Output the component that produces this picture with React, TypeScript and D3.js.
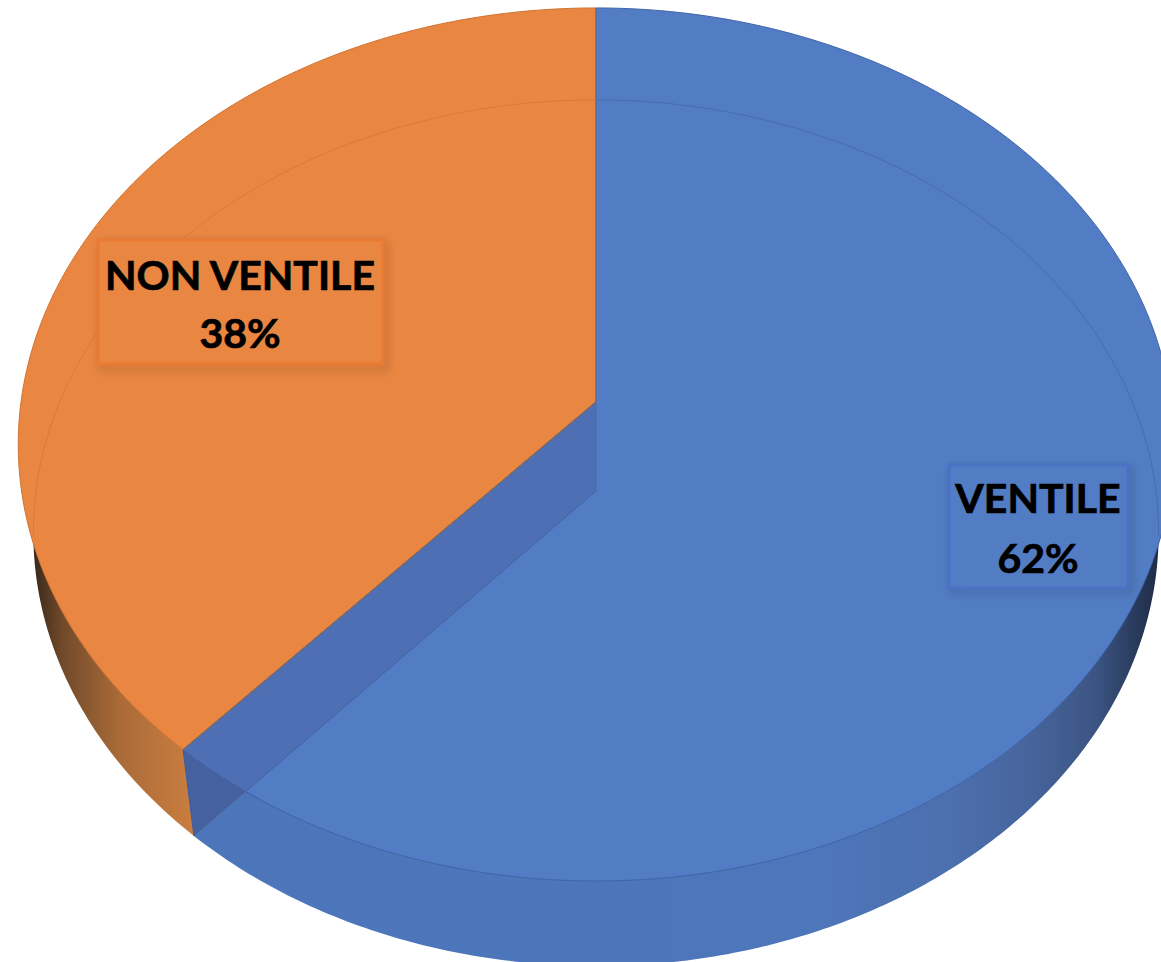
import React from 'react';
import * as d3 from 'd3';

const categories = ['VENTILE', 'NON VENTILE'];
const shares = [61.6, 38.4];
const percentLabels = ['62%', '38%'];

const width = 1161;
const height = 962;

// the two rims of the tilted disc: a circle seen in perspective
const topRim = { cx: 596, cy: 402, a: 575, b: 432.4, k: 0.0973 };
const bottomRim = { cx: 596, cy: 491, a: 560, b: 429, k: 0.097 };

type Rim = typeof topRim;

const project = (rim: Rim, angle: number): [number, number] => {
  const u = Math.sin(angle);
  const v = -Math.cos(angle);
  const w = 1 - rim.k * v;
  return [rim.cx + (rim.a * u) / w, rim.cy + (rim.b * v) / w];
};

const arcPoints = (rim: Rim, start: number, end: number) => {
  const steps = Math.max(2, Math.ceil(Math.abs(end - start) * 90));
  return d3.range(steps + 1).map((i) => project(rim, start + ((end - start) * i) / steps));
};

const closedLine = d3.line().curve(d3.curveLinearClosed);
const openLine = d3.line();

const slices = d3.pie<number>().sort(null)(shares);

const wedge = (rim: Rim, start: number, end: number) =>
  closedLine([[rim.cx, rim.cy], ...arcPoints(rim, start, end)]) as string;

const rimPath = (rim: Rim) => closedLine(arcPoints(rim, 0, Math.PI * 2)) as string;

const sideFills = ['url(#sideBlue)', 'url(#sideOrange)'];
const topFills = ['#527cc4', '#e98642'];
const edgeColors = ['#3f65a9', '#cf7433'];
const backLineColors = ['#466cb2', '#d9742e'];
const backLimit = (96 * Math.PI) / 180;

const labelBoxes = [
  { x: 949, y: 465, w: 179, h: 123, cx: 1038, base: [513, 573], stroke: '#4873c4', size: 41 },
  { x: 98, y: 240, w: 285, h: 124, cx: 240, base: [289.5, 348], stroke: '#e97b33', size: 41 },
];

export default function App() {
  const cut = slices[0].endAngle;
  const wall = closedLine([
    [topRim.cx, topRim.cy],
    project(topRim, cut),
    project(bottomRim, cut),
    [bottomRim.cx, bottomRim.cy],
  ]) as string;

  return (
    <svg
      width={width}
      height={height}
      viewBox={`0 0 ${width} ${height}`}
      style={{ position: 'absolute', left: 0, top: 0, display: 'block' }}
    >
      <defs>
        <linearGradient id="sideBlue" gradientUnits="userSpaceOnUse" x1="190" x2="1165" y1="0" y2="0">
          <stop offset="0" stopColor="#4d75ba" />
          <stop offset="0.65" stopColor="#4e76ba" />
          <stop offset="0.78" stopColor="#4c6fae" />
          <stop offset="0.86" stopColor="#47659d" />
          <stop offset="0.93" stopColor="#3b5482" />
          <stop offset="1" stopColor="#1c2740" />
        </linearGradient>
        <linearGradient id="sideOrange" gradientUnits="userSpaceOnUse" x1="28" x2="195" y1="0" y2="0">
          <stop offset="0" stopColor="#2e2218" />
          <stop offset="0.2" stopColor="#70492a" />
          <stop offset="0.55" stopColor="#aa6b38" />
          <stop offset="1" stopColor="#cb7e40" />
        </linearGradient>
        <clipPath id="topClip">
          <path d={rimPath(topRim)} />
        </clipPath>
        <filter id="boxShadow" x="-10%" y="-10%" width="125%" height="125%">
          <feGaussianBlur stdDeviation="4" />
        </filter>
      </defs>

      {slices.map((s, i) => (
        <path key={`side-${i}`} d={wedge(bottomRim, s.startAngle, s.endAngle)} fill={sideFills[i]} />
      ))}

      {slices
        .map((s, i) => ({ s, i }))
        .reverse()
        .map(({ s, i }) => (
          <path
            key={`top-${i}`}
            d={wedge(topRim, s.startAngle, s.endAngle)}
            fill={topFills[i]}
            stroke={edgeColors[i]}
            strokeWidth={1}
          />
        ))}

      <path d={wall} fill="#46619f" />
      <path d={wall} fill="#4e6fb3" clipPath="url(#topClip)" />
      {/* front rim of the blue top carries on across the cut wall */}
      <path d={openLine(arcPoints(topRim, cut - 0.16, cut)) as string} fill="none" stroke="#3f62a6" strokeWidth={1} />
      <path
        d={openLine([[bottomRim.cx, bottomRim.cy], project(bottomRim, cut)]) as string}
        stroke="#4565a6"
        strokeWidth={1}
        fill="none"
      />
      <path
        d={openLine([project(topRim, cut), project(bottomRim, cut)]) as string}
        stroke="#3f5c9c"
        strokeWidth={1}
        fill="none"
      />
      <path
        d={openLine([[topRim.cx, topRim.cy], project(topRim, cut)]) as string}
        stroke="#7a6a66"
        strokeWidth={1.2}
        fill="none"
      />
      <path
        d={openLine([project(topRim, 0), [topRim.cx, topRim.cy]]) as string}
        stroke="#6a7398"
        strokeWidth={1.6}
        fill="none"
      />
      <path
        d={openLine([[topRim.cx, topRim.cy], [bottomRim.cx, bottomRim.cy]]) as string}
        stroke="#4a6cb0"
        strokeWidth={1}
        fill="none"
      />

      {/* far rim of the base, seen through the top */}
      <path
        d={openLine(arcPoints(bottomRim, 0, backLimit)) as string}
        fill="none"
        stroke={backLineColors[0]}
        strokeWidth={1}
      />
      <path
        d={openLine(arcPoints(bottomRim, -backLimit, 0)) as string}
        fill="none"
        stroke={backLineColors[1]}
        strokeWidth={1}
        opacity={0.75}
      />

      {labelBoxes.map((b, i) => (
        <g key={categories[i]}>
          <rect
            x={b.x + 3}
            y={b.y + 4}
            width={b.w}
            height={b.h}
            fill="none"
            stroke="#000"
            strokeOpacity={0.16}
            strokeWidth={5}
            filter="url(#boxShadow)"
          />
          <rect x={b.x} y={b.y} width={b.w} height={b.h} fill={topFills[i]} stroke={b.stroke} strokeWidth={3} />
          {[categories[i], percentLabels[i]].map((line, j) => (
            <text
              key={line}
              x={b.cx}
              y={b.base[j]}
              textAnchor="middle"
              fontFamily="Lato, 'Open Sans', sans-serif"
              fontWeight={700}
              fontSize={b.size}
              fill="#000"
              stroke="#000"
              strokeWidth={0.7}
            >
              {line}
            </text>
          ))}
        </g>
      ))}
    </svg>
  );
}
